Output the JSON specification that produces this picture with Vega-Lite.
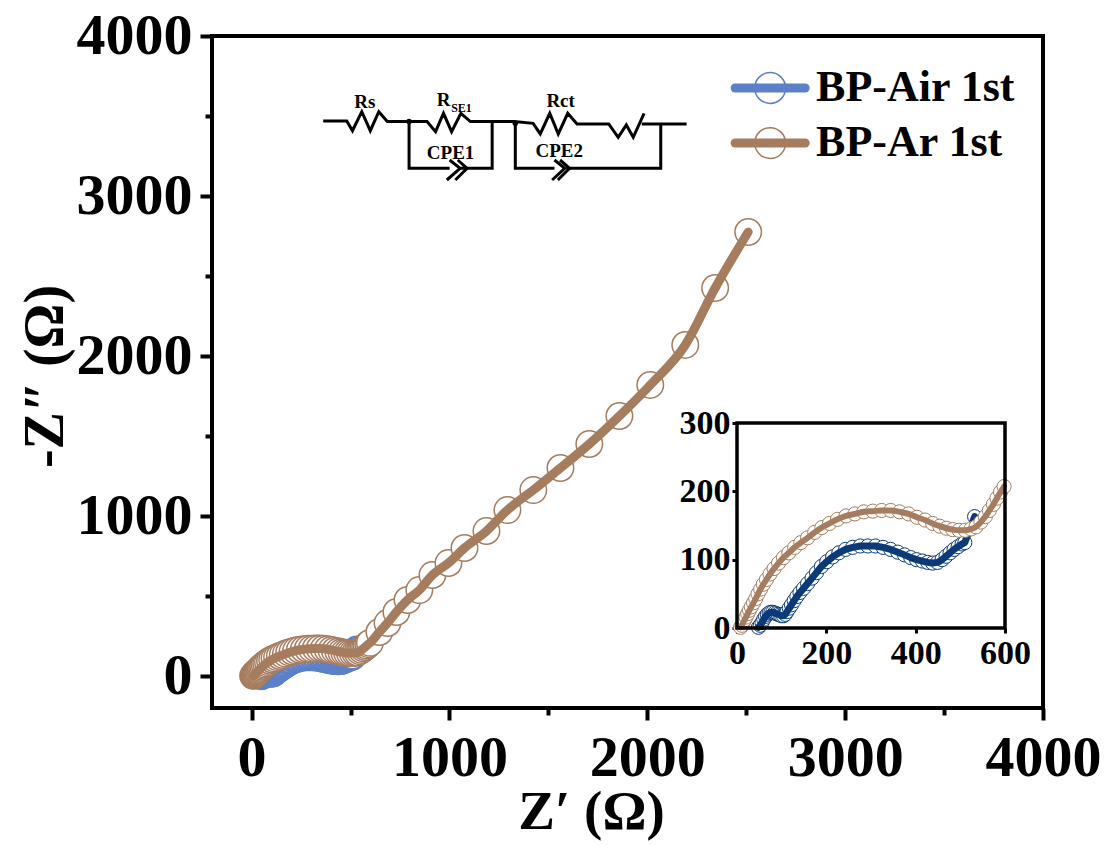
{"$schema":"https://vega.github.io/schema/vega-lite/v6.json","width":831,"height":672,"autosize":{"type":"none"},"padding":{"left":212,"top":36,"right":64,"bottom":137},"background":"white","config":{"view":{"stroke":"black","strokeWidth":4},"font":"Liberation Serif"},
"datasets":{
"eis":[
{"series":"Air","x":48,"y":1},{"series":"Air","x":52,"y":4},{"series":"Air","x":56,"y":8},{"series":"Air","x":60,"y":13},{"series":"Air","x":64,"y":17},{"series":"Air","x":68,"y":20},{"series":"Air","x":72,"y":22},{"series":"Air","x":76,"y":23},{"series":"Air","x":80,"y":23},{"series":"Air","x":84,"y":22},{"series":"Air","x":88,"y":21},{"series":"Air","x":92,"y":20},{"series":"Air","x":96,"y":19},{"series":"Air","x":100,"y":18},{"series":"Air","x":104,"y":18},{"series":"Air","x":108,"y":20},{"series":"Air","x":112,"y":24},{"series":"Air","x":117,"y":29},{"series":"Air","x":122,"y":34},{"series":"Air","x":128,"y":40},{"series":"Air","x":134,"y":46},{"series":"Air","x":141,"y":52},{"series":"Air","x":149,"y":58},{"series":"Air","x":158,"y":65},{"series":"Air","x":168,"y":73},{"series":"Air","x":178,"y":81},{"series":"Air","x":189,"y":90},{"series":"Air","x":201,"y":97},{"series":"Air","x":214,"y":104},{"series":"Air","x":228,"y":110},{"series":"Air","x":243,"y":115},{"series":"Air","x":259,"y":118},{"series":"Air","x":276,"y":120},{"series":"Air","x":293,"y":120},{"series":"Air","x":310,"y":120},{"series":"Air","x":327,"y":118},{"series":"Air","x":344,"y":115},{"series":"Air","x":360,"y":111},{"series":"Air","x":375,"y":107},{"series":"Air","x":389,"y":103},{"series":"Air","x":402,"y":100},{"series":"Air","x":415,"y":98},{"series":"Air","x":427,"y":96},{"series":"Air","x":438,"y":95},{"series":"Air","x":449,"y":96},{"series":"Air","x":459,"y":100},{"series":"Air","x":468,"y":105},{"series":"Air","x":477,"y":110},{"series":"Air","x":486,"y":115},{"series":"Air","x":495,"y":119},{"series":"Air","x":504,"y":123},{"series":"Air","x":510,"y":125},{"series":"Air","x":532,"y":163},
{"series":"Ar","x":8,"y":1},{"series":"Ar","x":11,"y":4},{"series":"Ar","x":14,"y":8},{"series":"Ar","x":17,"y":12},{"series":"Ar","x":20,"y":16},{"series":"Ar","x":24,"y":21},{"series":"Ar","x":28,"y":26},{"series":"Ar","x":32,"y":31},{"series":"Ar","x":37,"y":37},{"series":"Ar","x":42,"y":43},{"series":"Ar","x":47,"y":50},{"series":"Ar","x":53,"y":57},{"series":"Ar","x":59,"y":64},{"series":"Ar","x":66,"y":71},{"series":"Ar","x":74,"y":79},{"series":"Ar","x":83,"y":87},{"series":"Ar","x":93,"y":95},{"series":"Ar","x":104,"y":103},{"series":"Ar","x":116,"y":110},{"series":"Ar","x":129,"y":118},{"series":"Ar","x":143,"y":125},{"series":"Ar","x":158,"y":132},{"series":"Ar","x":174,"y":140},{"series":"Ar","x":190,"y":147},{"series":"Ar","x":207,"y":153},{"series":"Ar","x":225,"y":159},{"series":"Ar","x":244,"y":164},{"series":"Ar","x":264,"y":167},{"series":"Ar","x":284,"y":170},{"series":"Ar","x":304,"y":171},{"series":"Ar","x":324,"y":172},{"series":"Ar","x":344,"y":172},{"series":"Ar","x":364,"y":170},{"series":"Ar","x":384,"y":167},{"series":"Ar","x":403,"y":162},{"series":"Ar","x":421,"y":158},{"series":"Ar","x":438,"y":153},{"series":"Ar","x":454,"y":149},{"series":"Ar","x":469,"y":146},{"series":"Ar","x":483,"y":144},{"series":"Ar","x":497,"y":143},{"series":"Ar","x":511,"y":143},{"series":"Ar","x":524,"y":145},{"series":"Ar","x":535,"y":148},{"series":"Ar","x":546,"y":155},{"series":"Ar","x":556,"y":163},{"series":"Ar","x":565,"y":172},{"series":"Ar","x":574,"y":181},{"series":"Ar","x":582,"y":190},{"series":"Ar","x":590,"y":199},{"series":"Ar","x":598,"y":207},
{"series":"Ar","x":646,"y":275},{"series":"Ar","x":687,"y":331},{"series":"Ar","x":732,"y":400},{"series":"Ar","x":788,"y":475},{"series":"Ar","x":848,"y":537},{"series":"Ar","x":914,"y":631},{"series":"Ar","x":995,"y":706},{"series":"Ar","x":1076,"y":800},{"series":"Ar","x":1187,"y":906},{"series":"Ar","x":1293,"y":1037},{"series":"Ar","x":1424,"y":1162},{"series":"Ar","x":1561,"y":1300},{"series":"Ar","x":1707,"y":1450},{"series":"Ar","x":1859,"y":1625},{"series":"Ar","x":2015,"y":1819},{"series":"Ar","x":2192,"y":2069},{"series":"Ar","x":2343,"y":2425},{"series":"Ar","x":2510,"y":2775}],
"wires":[
{"w":"a","i":1,"x":362,"y":3469},{"w":"a","i":2,"x":481,"y":3469},{"w":"a","i":3,"x":510,"y":3408},{"w":"a","i":4,"x":557,"y":3527},{"w":"a","i":5,"x":600,"y":3408},{"w":"a","i":6,"x":643,"y":3527},{"w":"a","i":7,"x":686,"y":3465},{"w":"a","i":8,"x":887,"y":3465},{"w":"a","i":9,"x":930,"y":3402},{"w":"a","i":10,"x":970,"y":3517},{"w":"a","i":11,"x":1011,"y":3402},{"w":"a","i":12,"x":1058,"y":3517},{"w":"a","i":13,"x":1106,"y":3465},{"w":"a","i":14,"x":1328,"y":3465},{"w":"a","i":15,"x":1423,"y":3454},{"w":"a","i":16,"x":1459,"y":3388},{"w":"a","i":17,"x":1507,"y":3517},{"w":"a","i":18,"x":1550,"y":3388},{"w":"a","i":19,"x":1598,"y":3517},{"w":"a","i":20,"x":1645,"y":3450},{"w":"a","i":21,"x":1805,"y":3450},{"w":"a","i":22,"x":1853,"y":3367},{"w":"a","i":23,"x":1894,"y":3444},{"w":"a","i":24,"x":1929,"y":3367},{"w":"a","i":25,"x":1984,"y":3517},
{"w":"b","i":1,"x":1972,"y":3450},{"w":"b","i":2,"x":2199,"y":3450},
{"w":"c","i":1,"x":796,"y":3465},{"w":"c","i":2,"x":796,"y":3173},{"w":"c","i":3,"x":1001,"y":3173},
{"w":"d","i":1,"x":1054,"y":3173},{"w":"d","i":2,"x":1216,"y":3173},{"w":"d","i":3,"x":1216,"y":3465},
{"w":"e","i":1,"x":1333,"y":3454},{"w":"e","i":2,"x":1333,"y":3173},{"w":"e","i":3,"x":1531,"y":3173},
{"w":"f","i":1,"x":1591,"y":3173},{"w":"f","i":2,"x":2068,"y":3173},{"w":"f","i":3,"x":2068,"y":3450},
{"w":"g","i":1,"x":1001,"y":3225},{"w":"g","i":2,"x":1054,"y":3173},{"w":"g","i":3,"x":987,"y":3100},
{"w":"h","i":1,"x":1042,"y":3225},{"w":"h","i":2,"x":1089,"y":3173},{"w":"h","i":3,"x":1030,"y":3100},
{"w":"j","i":1,"x":1531,"y":3225},{"w":"j","i":2,"x":1583,"y":3173},{"w":"j","i":3,"x":1519,"y":3100},
{"w":"k","i":1,"x":1559,"y":3225},{"w":"k","i":2,"x":1607,"y":3173},{"w":"k","i":3,"x":1548,"y":3100}],
"nodes":[{"x":796,"y":3465},{"x":1333,"y":3454}],
"circuitText":[{"t":"Rs","x":572,"y":3590},{"t":"R","x":970,"y":3600},{"t":"Rct","x":1562,"y":3596},{"t":"CPE1","x":1006,"y":3271},{"t":"CPE2","x":1555,"y":3283}],
"circuitSub":[{"t":"SE1","x":1061,"y":3552}],
"legendLine":[{"series":"Air","x":2444,"y":3675},{"series":"Air","x":2798,"y":3675},{"series":"Ar","x":2444,"y":3331},{"series":"Ar","x":2798,"y":3331}],
"legendMark":[{"series":"Air","x":2621,"y":3675,"label":"BP-Air 1st","lx":2853},{"series":"Ar","x":2621,"y":3331,"label":"BP-Ar 1st","lx":2853}],
"insetFrame":[{"x":0,"x2":600,"y":0,"y2":300}]
},
"layer":[
{"encoding":{
"x":{"field":"x","type":"quantitative","scale":{"domain":[-200,4000],"nice":false,"zero":false},"axis":{"values":[0,500,1000,1500,2000,2500,3000,3500,4000],"labelExpr":"datum.value % 1000 === 0 ? datum.label : ''","format":"d","domain":false,"grid":false,"tickColor":"black","tickWidth":4,"tickSize":{"condition":{"test":"datum.value % 1000 === 0","value":12},"value":7},"labelFont":"Liberation Serif","labelFontWeight":"bold","labelFontSize":58,"labelColor":"black","labelPadding":9,"labelOverlap":false,"labelFlush":false,"title":"Z′ (Ω)","titleFont":"Liberation Serif","titleFontWeight":"bold","titleFontSize":55,"titleColor":"black","titleX":379,"titleY":120,"titleBaseline":"alphabetic"}},
"y":{"field":"y","type":"quantitative","scale":{"domain":[-200,4000],"nice":false,"zero":false},"axis":{"values":[0,500,1000,1500,2000,2500,3000,3500,4000],"labelExpr":"datum.value % 1000 === 0 ? datum.label : ''","format":"d","domain":false,"grid":false,"tickColor":"black","tickWidth":4,"tickSize":{"condition":{"test":"datum.value % 1000 === 0","value":12},"value":7},"labelFont":"Liberation Serif","labelFontWeight":"bold","labelFontSize":58,"labelColor":"black","labelPadding":8,"labelOverlap":false,"labelFlush":false,"title":"-Z″ (Ω)","titleFont":"Liberation Serif","titleFontWeight":"bold","titleFontSize":56,"titleColor":"black","titleX":-150,"titleY":340,"titleBaseline":"alphabetic"}}},
"layer":[
{"data":{"name":"eis"},"transform":[{"filter":"datum.series === 'Air'"}],"mark":{"type":"point","filled":false,"fill":"white","fillOpacity":1,"stroke":"#5b80c8","strokeWidth":2.5,"size":700}},
{"data":{"name":"eis"},"transform":[{"filter":"datum.series === 'Air'"}],"mark":{"type":"line","stroke":"#5b80c8","strokeWidth":9,"strokeCap":"round","strokeJoin":"round"}},
{"data":{"name":"eis"},"transform":[{"filter":"datum.series === 'Ar'"}],"mark":{"type":"point","filled":false,"fill":"white","fillOpacity":1,"stroke":"#a67c5f","strokeWidth":1.5,"size":700}},
{"data":{"name":"eis"},"transform":[{"filter":"datum.series === 'Ar'"}],"mark":{"type":"line","stroke":"#a67c5f","strokeWidth":9,"strokeCap":"round","strokeJoin":"round","interpolate":"monotone"}},
{"data":{"name":"wires"},"mark":{"type":"line","stroke":"black","strokeWidth":3,"strokeJoin":"miter"},"encoding":{"detail":{"field":"w"},"order":{"field":"i","type":"quantitative"}}},
{"data":{"name":"nodes"},"mark":{"type":"point","filled":true,"color":"black","size":30,"opacity":1}},
{"data":{"name":"circuitText"},"mark":{"type":"text","font":"Liberation Serif","fontWeight":"bold","fontSize":19,"color":"black","align":"center","baseline":"middle"},"encoding":{"text":{"field":"t"}}},
{"data":{"name":"circuitSub"},"mark":{"type":"text","font":"Liberation Serif","fontWeight":"bold","fontSize":12,"color":"black","align":"center","baseline":"middle"},"encoding":{"text":{"field":"t"}}},
{"data":{"name":"legendMark"},"mark":{"type":"point","filled":false,"fill":"white","fillOpacity":1,"strokeWidth":1.5,"size":950},"encoding":{"stroke":{"field":"series","type":"nominal","scale":{"domain":["Air","Ar"],"range":["#5b80c8","#a67c5f"]},"legend":null}}},
{"data":{"name":"legendLine"},"mark":{"type":"line","strokeWidth":9,"strokeCap":"round"},"encoding":{"stroke":{"field":"series","type":"nominal","scale":{"domain":["Air","Ar"],"range":["#5b80c8","#a67c5f"]},"legend":null}}},
{"data":{"name":"legendMark"},"mark":{"type":"text","font":"Liberation Serif","fontWeight":"bold","fontSize":44,"color":"black","align":"left","baseline":"middle"},"encoding":{"x":{"field":"lx","type":"quantitative"},"text":{"field":"label"}}}
]},
{"encoding":{
"x":{"field":"x","type":"quantitative","scale":{"domain":[0,600],"nice":false,"zero":false,"range":[525,793]},"axis":{"orient":"bottom","offset":-80,"values":[0,200,400,600],"format":"d","domain":false,"grid":false,"tickColor":"black","tickWidth":3,"tickSize":5,"labelFont":"Liberation Serif","labelFontWeight":"bold","labelFontSize":34,"labelColor":"black","labelPadding":3,"labelOverlap":false,"labelFlush":false,"title":null}},
"y":{"field":"y","type":"quantitative","scale":{"domain":[0,300],"nice":false,"zero":false,"range":[592,387]},"axis":{"orient":"left","offset":-525,"values":[0,100,200,300],"format":"d","domain":false,"grid":false,"tickColor":"black","tickWidth":3,"tickSize":5,"labelFont":"Liberation Serif","labelFontWeight":"bold","labelFontSize":34,"labelColor":"black","labelPadding":2,"labelOverlap":false,"labelFlush":false,"title":null}}},
"layer":[
{"data":{"name":"eis"},"transform":[{"filter":"datum.series === 'Air'"}],"mark":{"type":"point","filled":false,"fill":"white","fillOpacity":1,"stroke":"#0b3a78","strokeWidth":1,"size":200}},
{"data":{"name":"eis"},"transform":[{"filter":"datum.series === 'Air'"}],"mark":{"type":"line","stroke":"#0b3a78","strokeWidth":7,"strokeCap":"round","strokeJoin":"round"}},
{"data":{"name":"eis"},"transform":[{"filter":"datum.series === 'Ar' && datum.x <= 600"}],"mark":{"type":"point","filled":false,"fill":"white","fillOpacity":1,"stroke":"#a67c5f","strokeWidth":1,"size":200}},
{"data":{"name":"eis"},"transform":[{"filter":"datum.series === 'Ar' && datum.x <= 600"}],"mark":{"type":"line","stroke":"#a67c5f","strokeWidth":6,"strokeCap":"round","strokeJoin":"round","interpolate":"monotone"}},
{"data":{"name":"insetFrame"},"mark":{"type":"rect","fill":null,"stroke":"black","strokeWidth":3.5},"encoding":{"x2":{"field":"x2"},"y2":{"field":"y2"}}}
]}
],
"resolve":{"scale":{"x":"independent","y":"independent","stroke":"independent"},"axis":{"x":"independent","y":"independent"}}}
